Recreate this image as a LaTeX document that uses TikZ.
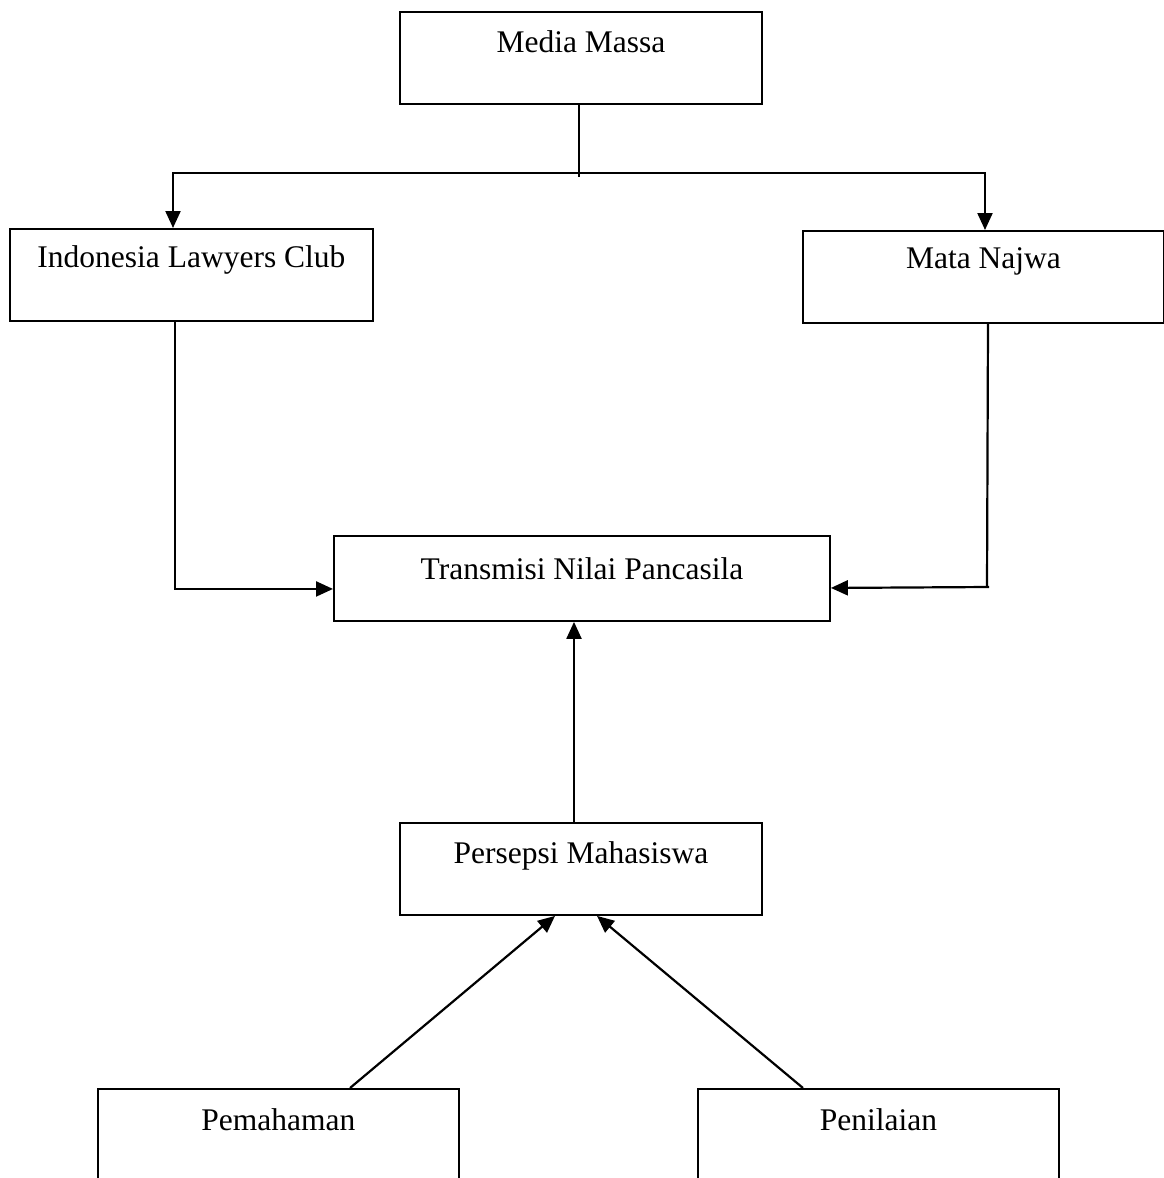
\documentclass[tikz,border=0pt]{standalone}
\usepackage{fontspec}
\setmainfont{Liberation Serif}
\usetikzlibrary{arrows.meta,calc}
\begin{document}
\begin{tikzpicture}[x=1pt,y=-1pt,
  box/.style={draw, line width=1.9pt, rectangle, inner sep=0pt, anchor=north west},
  txt/.style={anchor=base, inner sep=0pt, font=\fontsize{31.5}{38}\selectfont},
  con/.style={line width=2.2pt},
  arr/.style={con, -{Triangle[length=17pt,width=15pt]}}]
\useasboundingbox (0,0) rectangle (1164,1178);
\clip (0,0) rectangle (1164,1178);
% boxes
\node[box, minimum width=362pt, minimum height=92pt] (mm) at (399,11) {};
\node[box, minimum width=363pt, minimum height=92pt] (ilc) at (9,228) {};
\node[box, minimum width=361pt, minimum height=92pt] (mn) at (802,230) {};
\node[box, minimum width=496pt, minimum height=85pt] (tr) at (333,535) {};
\node[box, minimum width=362pt, minimum height=92pt] (ps) at (399,822) {};
\node[box, minimum width=361pt, minimum height=130pt] (pm) at (97,1088) {};
\node[box, minimum width=361pt, minimum height=130pt] (pn) at (697,1088) {};
% texts
\node[txt] (mmt) at ([yshift=-41pt]mm.north) {Media Massa};
\node[txt] (ilct) at ([yshift=-39pt]ilc.north) {Indonesia Lawyers Club};
\node[txt] (mnt) at ([yshift=-38pt]mn.north) {Mata Najwa};
\node[txt] (trt) at ([yshift=-44pt]tr.north) {Transmisi Nilai Pancasila};
\node[txt] (pst) at ([yshift=-41pt]ps.north) {Persepsi Mahasiswa};
\node[txt] (pmt) at ([yshift=-42pt]pm.north) {Pemahaman};
\node[txt] (pnt) at ([yshift=-42pt]pn.north) {Penilaian};
% connectors
\coordinate (split) at (579,173);
\coordinate (stub) at (579,177);
\coordinate (mncorner) at (987,587);
\draw[con] (mm.south -| stub) -- (stub);
\draw[arr] (split) -| ([xshift=164pt]ilc.north west);
\draw[arr] (split) -| ([xshift=183pt]mn.north west);
\draw[arr] ([xshift=166pt]ilc.south west) |- ([yshift=-10.5pt]tr.west);
\draw[con] ([xshift=186pt]mn.south west) -- (mncorner);
\draw[arr] ([xshift=2pt]mncorner) -- ([yshift=-9.5pt]tr.east);
\draw[arr] ([xshift=175pt]ps.north west) -- ([xshift=175pt]ps.north west |- tr.south);
\draw[arr] ([xshift=253pt]pm.north west) -- ([xshift=156pt]ps.south west);
\draw[arr] ([xshift=106pt]pn.north west) -- ([xshift=198pt]ps.south west);
\end{tikzpicture}
\end{document}
